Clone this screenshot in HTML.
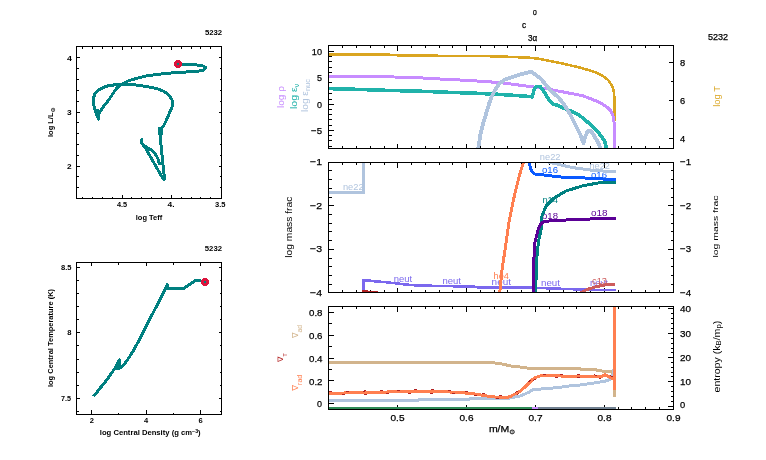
<!DOCTYPE html>
<html><head><meta charset="utf-8"><title>pgstar</title>
<style>
html,body{margin:0;padding:0;background:#fff;}
body{width:766px;height:460px;overflow:hidden;}
svg{display:block;font-family:"Liberation Sans", "DejaVu Sans", sans-serif;will-change:transform;}
text.b{font-weight:bold;}
</style></head><body>
<svg width="766" height="460" viewBox="0 0 766 460" shape-rendering="crispEdges">
<rect x="0" y="0" width="766" height="460" fill="#fff"/>
<line x1="82.5" y1="198.5" x2="82.5" y2="196.5" stroke="#000" stroke-width="1"/>
<line x1="82.5" y1="46.5" x2="82.5" y2="48.5" stroke="#000" stroke-width="1"/>
<line x1="92.5" y1="198.5" x2="92.5" y2="196.5" stroke="#000" stroke-width="1"/>
<line x1="92.5" y1="46.5" x2="92.5" y2="48.5" stroke="#000" stroke-width="1"/>
<line x1="102.5" y1="198.5" x2="102.5" y2="196.5" stroke="#000" stroke-width="1"/>
<line x1="102.5" y1="46.5" x2="102.5" y2="48.5" stroke="#000" stroke-width="1"/>
<line x1="112.5" y1="198.5" x2="112.5" y2="196.5" stroke="#000" stroke-width="1"/>
<line x1="112.5" y1="46.5" x2="112.5" y2="48.5" stroke="#000" stroke-width="1"/>
<line x1="122.5" y1="198.5" x2="122.5" y2="195.0" stroke="#000" stroke-width="1"/>
<line x1="122.5" y1="46.5" x2="122.5" y2="50.0" stroke="#000" stroke-width="1"/>
<line x1="131.5" y1="198.5" x2="131.5" y2="196.5" stroke="#000" stroke-width="1"/>
<line x1="131.5" y1="46.5" x2="131.5" y2="48.5" stroke="#000" stroke-width="1"/>
<line x1="141.5" y1="198.5" x2="141.5" y2="196.5" stroke="#000" stroke-width="1"/>
<line x1="141.5" y1="46.5" x2="141.5" y2="48.5" stroke="#000" stroke-width="1"/>
<line x1="151.5" y1="198.5" x2="151.5" y2="196.5" stroke="#000" stroke-width="1"/>
<line x1="151.5" y1="46.5" x2="151.5" y2="48.5" stroke="#000" stroke-width="1"/>
<line x1="161.5" y1="198.5" x2="161.5" y2="196.5" stroke="#000" stroke-width="1"/>
<line x1="161.5" y1="46.5" x2="161.5" y2="48.5" stroke="#000" stroke-width="1"/>
<line x1="171.5" y1="198.5" x2="171.5" y2="195.0" stroke="#000" stroke-width="1"/>
<line x1="171.5" y1="46.5" x2="171.5" y2="50.0" stroke="#000" stroke-width="1"/>
<line x1="181.5" y1="198.5" x2="181.5" y2="196.5" stroke="#000" stroke-width="1"/>
<line x1="181.5" y1="46.5" x2="181.5" y2="48.5" stroke="#000" stroke-width="1"/>
<line x1="191.5" y1="198.5" x2="191.5" y2="196.5" stroke="#000" stroke-width="1"/>
<line x1="191.5" y1="46.5" x2="191.5" y2="48.5" stroke="#000" stroke-width="1"/>
<line x1="200.5" y1="198.5" x2="200.5" y2="196.5" stroke="#000" stroke-width="1"/>
<line x1="200.5" y1="46.5" x2="200.5" y2="48.5" stroke="#000" stroke-width="1"/>
<line x1="210.5" y1="198.5" x2="210.5" y2="196.5" stroke="#000" stroke-width="1"/>
<line x1="210.5" y1="46.5" x2="210.5" y2="48.5" stroke="#000" stroke-width="1"/>
<line x1="76.5" y1="57.5" x2="80.0" y2="57.5" stroke="#000" stroke-width="1"/>
<line x1="221.5" y1="57.5" x2="218.5" y2="57.5" stroke="#000" stroke-width="1"/>
<line x1="76.5" y1="68.5" x2="79.0" y2="68.5" stroke="#000" stroke-width="1"/>
<line x1="221.5" y1="68.5" x2="220.0" y2="68.5" stroke="#000" stroke-width="1"/>
<line x1="76.5" y1="79.5" x2="79.0" y2="79.5" stroke="#000" stroke-width="1"/>
<line x1="221.5" y1="79.5" x2="220.0" y2="79.5" stroke="#000" stroke-width="1"/>
<line x1="76.5" y1="90.5" x2="79.0" y2="90.5" stroke="#000" stroke-width="1"/>
<line x1="221.5" y1="90.5" x2="220.0" y2="90.5" stroke="#000" stroke-width="1"/>
<line x1="76.5" y1="101.5" x2="79.0" y2="101.5" stroke="#000" stroke-width="1"/>
<line x1="221.5" y1="101.5" x2="220.0" y2="101.5" stroke="#000" stroke-width="1"/>
<line x1="76.5" y1="112.5" x2="80.0" y2="112.5" stroke="#000" stroke-width="1"/>
<line x1="221.5" y1="112.5" x2="218.5" y2="112.5" stroke="#000" stroke-width="1"/>
<line x1="76.5" y1="122.5" x2="79.0" y2="122.5" stroke="#000" stroke-width="1"/>
<line x1="221.5" y1="122.5" x2="220.0" y2="122.5" stroke="#000" stroke-width="1"/>
<line x1="76.5" y1="133.5" x2="79.0" y2="133.5" stroke="#000" stroke-width="1"/>
<line x1="221.5" y1="133.5" x2="220.0" y2="133.5" stroke="#000" stroke-width="1"/>
<line x1="76.5" y1="144.5" x2="79.0" y2="144.5" stroke="#000" stroke-width="1"/>
<line x1="221.5" y1="144.5" x2="220.0" y2="144.5" stroke="#000" stroke-width="1"/>
<line x1="76.5" y1="155.5" x2="79.0" y2="155.5" stroke="#000" stroke-width="1"/>
<line x1="221.5" y1="155.5" x2="220.0" y2="155.5" stroke="#000" stroke-width="1"/>
<line x1="76.5" y1="166.5" x2="80.0" y2="166.5" stroke="#000" stroke-width="1"/>
<line x1="221.5" y1="166.5" x2="218.5" y2="166.5" stroke="#000" stroke-width="1"/>
<line x1="76.5" y1="176.5" x2="79.0" y2="176.5" stroke="#000" stroke-width="1"/>
<line x1="221.5" y1="176.5" x2="220.0" y2="176.5" stroke="#000" stroke-width="1"/>
<line x1="76.5" y1="187.5" x2="79.0" y2="187.5" stroke="#000" stroke-width="1"/>
<line x1="221.5" y1="187.5" x2="220.0" y2="187.5" stroke="#000" stroke-width="1"/>
<rect x="76.5" y="46.5" width="145.0" height="152.0" fill="none" stroke="#000" stroke-width="1"/>
<polyline points="141.0,138.5 141.5,143.0 146.0,149.0 150.0,156.0 154.0,163.0 158.0,170.0 162.0,177.0 164.0,180.0 164.5,178.0 163.5,170.0 162.5,160.0 161.5,150.0 160.5,140.0 160.3,132.0 160.5,130.0 162.0,128.0 164.0,125.0 166.5,120.0 169.5,113.0 172.0,107.0 172.0,100.0 169.0,95.0 164.0,91.5 157.0,88.5 146.0,86.5 136.0,85.0 118.0,84.5 109.0,85.5 103.0,87.5 98.0,90.5 95.0,93.5 93.5,98.0 94.0,106.0 96.0,113.0 98.5,119.0 98.5,114.0 103.0,107.0 108.0,101.0 112.0,95.0 116.0,89.0 120.0,85.0 128.0,81.0 138.0,78.0 146.0,76.0 156.0,74.5 171.0,73.0 186.0,72.0 199.0,71.0 204.0,70.0 206.0,67.5 202.0,65.5 191.0,64.5 178.0,64.0" fill="none" stroke="#008080" stroke-width="3" stroke-linejoin="round" stroke-linecap="butt" />
<polyline points="143.0,145.0 148.0,148.0 152.0,150.5 156.0,155.0 158.5,160.0 159.5,165.0" fill="none" stroke="#008080" stroke-width="3" stroke-linejoin="round" stroke-linecap="butt" />
<polyline points="96.8,109.5 98.6,118.5" fill="none" stroke="#008080" stroke-width="3.6" stroke-linejoin="round" stroke-linecap="butt" />
<polyline points="160.4,127.2 160.4,135.0" fill="none" stroke="#008080" stroke-width="5" stroke-linejoin="round" stroke-linecap="butt" />
<circle cx="178" cy="64" r="4" fill="#DC143C"/>
<circle cx="178" cy="64" r="0.8" fill="#008080"/>
<text x="67" y="60.6" font-size="7.2" fill="#000" textLength="4.9" lengthAdjust="spacingAndGlyphs"  class="b">4</text>
<text x="67" y="115.0" font-size="7.2" fill="#000" textLength="4.6" lengthAdjust="spacingAndGlyphs"  class="b">3</text>
<text x="67" y="169.3" font-size="7.2" fill="#000" textLength="4.6" lengthAdjust="spacingAndGlyphs"  class="b">2</text>
<text x="117" y="207" font-size="7.2" fill="#000" textLength="10.2" lengthAdjust="spacingAndGlyphs"  class="b">4.5</text>
<text x="167.5" y="207" font-size="7.2" fill="#000" textLength="7.0" lengthAdjust="spacingAndGlyphs"  class="b">4.</text>
<text x="215" y="207" font-size="7.2" fill="#000" textLength="10.5" lengthAdjust="spacingAndGlyphs"  class="b">3.5</text>
<text x="135.8" y="219.9" font-size="7.2" fill="#000" textLength="26.4" lengthAdjust="spacingAndGlyphs"  class="b">log Teff</text>
<text x="204.9" y="34.9" font-size="7.2" fill="#000" textLength="17.3" lengthAdjust="spacingAndGlyphs"  class="b">5232</text>
<text transform="translate(52.9,137) rotate(-90)" x="0" y="0" font-size="7.2" fill="#000" textLength="29.7" lengthAdjust="spacingAndGlyphs"  class="b">log L/L<tspan font-size="6" dy="2">&#8857;</tspan></text>
<line x1="91.5" y1="414.5" x2="91.5" y2="410.0" stroke="#000" stroke-width="1"/>
<line x1="91.5" y1="262.5" x2="91.5" y2="266.0" stroke="#000" stroke-width="1"/>
<line x1="118.5" y1="414.5" x2="118.5" y2="412.5" stroke="#000" stroke-width="1"/>
<line x1="118.5" y1="262.5" x2="118.5" y2="265.0" stroke="#000" stroke-width="1"/>
<line x1="146" y1="414.5" x2="146" y2="410.0" stroke="#000" stroke-width="1"/>
<line x1="146" y1="262.5" x2="146" y2="266.0" stroke="#000" stroke-width="1"/>
<line x1="173.5" y1="414.5" x2="173.5" y2="412.5" stroke="#000" stroke-width="1"/>
<line x1="173.5" y1="262.5" x2="173.5" y2="265.0" stroke="#000" stroke-width="1"/>
<line x1="200.5" y1="414.5" x2="200.5" y2="410.0" stroke="#000" stroke-width="1"/>
<line x1="200.5" y1="262.5" x2="200.5" y2="266.0" stroke="#000" stroke-width="1"/>
<line x1="76.5" y1="267.5" x2="80.0" y2="267.5" stroke="#000" stroke-width="1"/>
<line x1="221.5" y1="267.5" x2="219.0" y2="267.5" stroke="#000" stroke-width="1"/>
<line x1="76.5" y1="280.5" x2="79.0" y2="280.5" stroke="#000" stroke-width="1"/>
<line x1="221.5" y1="280.5" x2="220.0" y2="280.5" stroke="#000" stroke-width="1"/>
<line x1="76.5" y1="293.5" x2="79.0" y2="293.5" stroke="#000" stroke-width="1"/>
<line x1="221.5" y1="293.5" x2="220.0" y2="293.5" stroke="#000" stroke-width="1"/>
<line x1="76.5" y1="306.5" x2="79.0" y2="306.5" stroke="#000" stroke-width="1"/>
<line x1="221.5" y1="306.5" x2="220.0" y2="306.5" stroke="#000" stroke-width="1"/>
<line x1="76.5" y1="319.5" x2="79.0" y2="319.5" stroke="#000" stroke-width="1"/>
<line x1="221.5" y1="319.5" x2="220.0" y2="319.5" stroke="#000" stroke-width="1"/>
<line x1="76.5" y1="332.5" x2="80.0" y2="332.5" stroke="#000" stroke-width="1"/>
<line x1="221.5" y1="332.5" x2="219.0" y2="332.5" stroke="#000" stroke-width="1"/>
<line x1="76.5" y1="345.5" x2="79.0" y2="345.5" stroke="#000" stroke-width="1"/>
<line x1="221.5" y1="345.5" x2="220.0" y2="345.5" stroke="#000" stroke-width="1"/>
<line x1="76.5" y1="359.5" x2="79.0" y2="359.5" stroke="#000" stroke-width="1"/>
<line x1="221.5" y1="359.5" x2="220.0" y2="359.5" stroke="#000" stroke-width="1"/>
<line x1="76.5" y1="372.5" x2="79.0" y2="372.5" stroke="#000" stroke-width="1"/>
<line x1="221.5" y1="372.5" x2="220.0" y2="372.5" stroke="#000" stroke-width="1"/>
<line x1="76.5" y1="385.5" x2="79.0" y2="385.5" stroke="#000" stroke-width="1"/>
<line x1="221.5" y1="385.5" x2="220.0" y2="385.5" stroke="#000" stroke-width="1"/>
<line x1="76.5" y1="398.5" x2="80.0" y2="398.5" stroke="#000" stroke-width="1"/>
<line x1="221.5" y1="398.5" x2="219.0" y2="398.5" stroke="#000" stroke-width="1"/>
<line x1="76.5" y1="411.5" x2="79.0" y2="411.5" stroke="#000" stroke-width="1"/>
<line x1="221.5" y1="411.5" x2="220.0" y2="411.5" stroke="#000" stroke-width="1"/>
<rect x="76.5" y="262.5" width="145.0" height="152.0" fill="none" stroke="#000" stroke-width="1"/>
<polyline points="93.5,396.5 101.0,387.0 106.0,381.0 111.0,374.0 115.0,368.0 119.5,360.0 120.0,363.5 117.5,369.0 122.0,367.0 126.0,362.0 130.0,356.0 134.0,349.5 139.0,340.5 146.5,325.5 156.4,306.4 163.9,291.5 167.4,284.7 167.8,288.6 171.3,288.2 178.3,288.8 182.6,289.0 188.7,285.1 194.8,280.8 197.4,280.2 205.0,282.0" fill="none" stroke="#008080" stroke-width="3" stroke-linejoin="round" stroke-linecap="butt" />
<circle cx="205" cy="282" r="4" fill="#DC143C"/>
<circle cx="205" cy="282" r="0.8" fill="#008080"/>
<text x="61" y="270" font-size="7.2" fill="#000" textLength="10.5" lengthAdjust="spacingAndGlyphs"  class="b">8.5</text>
<text x="67.2" y="334.6" font-size="7.2" fill="#000" textLength="4.2" lengthAdjust="spacingAndGlyphs"  class="b">8</text>
<text x="61" y="401.3" font-size="7.2" fill="#000" textLength="10.0" lengthAdjust="spacingAndGlyphs"  class="b">7.5</text>
<text x="89.8" y="422.8" font-size="7.2" fill="#000" textLength="4.2" lengthAdjust="spacingAndGlyphs"  class="b">2</text>
<text x="143.9" y="422.8" font-size="7.2" fill="#000" textLength="4.2" lengthAdjust="spacingAndGlyphs"  class="b">4</text>
<text x="198.6" y="422.8" font-size="7.2" fill="#000" textLength="4.2" lengthAdjust="spacingAndGlyphs"  class="b">6</text>
<text x="99.8" y="435.3" font-size="7.2" fill="#000" textLength="100.9" lengthAdjust="spacingAndGlyphs"  class="b">log Central Density (g cm<tspan font-size="5" dy="-2">&#8722;3</tspan><tspan dy="2">)</tspan></text>
<text transform="translate(53.2,387) rotate(-90)" x="0" y="0" font-size="7.2" fill="#000" textLength="98.0" lengthAdjust="spacingAndGlyphs"  class="b">log Central Temperature (K)</text>
<text x="204.8" y="251" font-size="7.2" fill="#000" textLength="17.2" lengthAdjust="spacingAndGlyphs"  class="b">5232</text>
<line x1="342.5" y1="148.5" x2="342.5" y2="146.0" stroke="#000" stroke-width="1"/>
<line x1="342.5" y1="45.5" x2="342.5" y2="48.0" stroke="#000" stroke-width="1"/>
<line x1="356.5" y1="148.5" x2="356.5" y2="146.0" stroke="#000" stroke-width="1"/>
<line x1="356.5" y1="45.5" x2="356.5" y2="48.0" stroke="#000" stroke-width="1"/>
<line x1="370.5" y1="148.5" x2="370.5" y2="146.0" stroke="#000" stroke-width="1"/>
<line x1="370.5" y1="45.5" x2="370.5" y2="48.0" stroke="#000" stroke-width="1"/>
<line x1="384.5" y1="148.5" x2="384.5" y2="146.0" stroke="#000" stroke-width="1"/>
<line x1="384.5" y1="45.5" x2="384.5" y2="48.0" stroke="#000" stroke-width="1"/>
<line x1="397.5" y1="148.5" x2="397.5" y2="143.5" stroke="#000" stroke-width="1"/>
<line x1="397.5" y1="45.5" x2="397.5" y2="50.5" stroke="#000" stroke-width="1"/>
<line x1="411.5" y1="148.5" x2="411.5" y2="146.0" stroke="#000" stroke-width="1"/>
<line x1="411.5" y1="45.5" x2="411.5" y2="48.0" stroke="#000" stroke-width="1"/>
<line x1="425.5" y1="148.5" x2="425.5" y2="146.0" stroke="#000" stroke-width="1"/>
<line x1="425.5" y1="45.5" x2="425.5" y2="48.0" stroke="#000" stroke-width="1"/>
<line x1="439.5" y1="148.5" x2="439.5" y2="146.0" stroke="#000" stroke-width="1"/>
<line x1="439.5" y1="45.5" x2="439.5" y2="48.0" stroke="#000" stroke-width="1"/>
<line x1="452.5" y1="148.5" x2="452.5" y2="146.0" stroke="#000" stroke-width="1"/>
<line x1="452.5" y1="45.5" x2="452.5" y2="48.0" stroke="#000" stroke-width="1"/>
<line x1="466.5" y1="148.5" x2="466.5" y2="143.5" stroke="#000" stroke-width="1"/>
<line x1="466.5" y1="45.5" x2="466.5" y2="50.5" stroke="#000" stroke-width="1"/>
<line x1="480.5" y1="148.5" x2="480.5" y2="146.0" stroke="#000" stroke-width="1"/>
<line x1="480.5" y1="45.5" x2="480.5" y2="48.0" stroke="#000" stroke-width="1"/>
<line x1="494.5" y1="148.5" x2="494.5" y2="146.0" stroke="#000" stroke-width="1"/>
<line x1="494.5" y1="45.5" x2="494.5" y2="48.0" stroke="#000" stroke-width="1"/>
<line x1="507.5" y1="148.5" x2="507.5" y2="146.0" stroke="#000" stroke-width="1"/>
<line x1="507.5" y1="45.5" x2="507.5" y2="48.0" stroke="#000" stroke-width="1"/>
<line x1="521.5" y1="148.5" x2="521.5" y2="146.0" stroke="#000" stroke-width="1"/>
<line x1="521.5" y1="45.5" x2="521.5" y2="48.0" stroke="#000" stroke-width="1"/>
<line x1="535.5" y1="148.5" x2="535.5" y2="143.5" stroke="#000" stroke-width="1"/>
<line x1="535.5" y1="45.5" x2="535.5" y2="50.5" stroke="#000" stroke-width="1"/>
<line x1="549.5" y1="148.5" x2="549.5" y2="146.0" stroke="#000" stroke-width="1"/>
<line x1="549.5" y1="45.5" x2="549.5" y2="48.0" stroke="#000" stroke-width="1"/>
<line x1="563.5" y1="148.5" x2="563.5" y2="146.0" stroke="#000" stroke-width="1"/>
<line x1="563.5" y1="45.5" x2="563.5" y2="48.0" stroke="#000" stroke-width="1"/>
<line x1="576.5" y1="148.5" x2="576.5" y2="146.0" stroke="#000" stroke-width="1"/>
<line x1="576.5" y1="45.5" x2="576.5" y2="48.0" stroke="#000" stroke-width="1"/>
<line x1="590.5" y1="148.5" x2="590.5" y2="146.0" stroke="#000" stroke-width="1"/>
<line x1="590.5" y1="45.5" x2="590.5" y2="48.0" stroke="#000" stroke-width="1"/>
<line x1="604.5" y1="148.5" x2="604.5" y2="143.5" stroke="#000" stroke-width="1"/>
<line x1="604.5" y1="45.5" x2="604.5" y2="50.5" stroke="#000" stroke-width="1"/>
<line x1="618.5" y1="148.5" x2="618.5" y2="146.0" stroke="#000" stroke-width="1"/>
<line x1="618.5" y1="45.5" x2="618.5" y2="48.0" stroke="#000" stroke-width="1"/>
<line x1="631.5" y1="148.5" x2="631.5" y2="146.0" stroke="#000" stroke-width="1"/>
<line x1="631.5" y1="45.5" x2="631.5" y2="48.0" stroke="#000" stroke-width="1"/>
<line x1="645.5" y1="148.5" x2="645.5" y2="146.0" stroke="#000" stroke-width="1"/>
<line x1="645.5" y1="45.5" x2="645.5" y2="48.0" stroke="#000" stroke-width="1"/>
<line x1="659.5" y1="148.5" x2="659.5" y2="146.0" stroke="#000" stroke-width="1"/>
<line x1="659.5" y1="45.5" x2="659.5" y2="48.0" stroke="#000" stroke-width="1"/>
<rect x="328.5" y="45.5" width="345.0" height="103.0" fill="none" stroke="#000" stroke-width="1"/>
<line x1="342.5" y1="292.5" x2="342.5" y2="290.0" stroke="#000" stroke-width="1"/>
<line x1="342.5" y1="162.5" x2="342.5" y2="165.0" stroke="#000" stroke-width="1"/>
<line x1="356.5" y1="292.5" x2="356.5" y2="290.0" stroke="#000" stroke-width="1"/>
<line x1="356.5" y1="162.5" x2="356.5" y2="165.0" stroke="#000" stroke-width="1"/>
<line x1="370.5" y1="292.5" x2="370.5" y2="290.0" stroke="#000" stroke-width="1"/>
<line x1="370.5" y1="162.5" x2="370.5" y2="165.0" stroke="#000" stroke-width="1"/>
<line x1="384.5" y1="292.5" x2="384.5" y2="290.0" stroke="#000" stroke-width="1"/>
<line x1="384.5" y1="162.5" x2="384.5" y2="165.0" stroke="#000" stroke-width="1"/>
<line x1="397.5" y1="292.5" x2="397.5" y2="287.5" stroke="#000" stroke-width="1"/>
<line x1="397.5" y1="162.5" x2="397.5" y2="167.5" stroke="#000" stroke-width="1"/>
<line x1="411.5" y1="292.5" x2="411.5" y2="290.0" stroke="#000" stroke-width="1"/>
<line x1="411.5" y1="162.5" x2="411.5" y2="165.0" stroke="#000" stroke-width="1"/>
<line x1="425.5" y1="292.5" x2="425.5" y2="290.0" stroke="#000" stroke-width="1"/>
<line x1="425.5" y1="162.5" x2="425.5" y2="165.0" stroke="#000" stroke-width="1"/>
<line x1="439.5" y1="292.5" x2="439.5" y2="290.0" stroke="#000" stroke-width="1"/>
<line x1="439.5" y1="162.5" x2="439.5" y2="165.0" stroke="#000" stroke-width="1"/>
<line x1="452.5" y1="292.5" x2="452.5" y2="290.0" stroke="#000" stroke-width="1"/>
<line x1="452.5" y1="162.5" x2="452.5" y2="165.0" stroke="#000" stroke-width="1"/>
<line x1="466.5" y1="292.5" x2="466.5" y2="287.5" stroke="#000" stroke-width="1"/>
<line x1="466.5" y1="162.5" x2="466.5" y2="167.5" stroke="#000" stroke-width="1"/>
<line x1="480.5" y1="292.5" x2="480.5" y2="290.0" stroke="#000" stroke-width="1"/>
<line x1="480.5" y1="162.5" x2="480.5" y2="165.0" stroke="#000" stroke-width="1"/>
<line x1="494.5" y1="292.5" x2="494.5" y2="290.0" stroke="#000" stroke-width="1"/>
<line x1="494.5" y1="162.5" x2="494.5" y2="165.0" stroke="#000" stroke-width="1"/>
<line x1="507.5" y1="292.5" x2="507.5" y2="290.0" stroke="#000" stroke-width="1"/>
<line x1="507.5" y1="162.5" x2="507.5" y2="165.0" stroke="#000" stroke-width="1"/>
<line x1="521.5" y1="292.5" x2="521.5" y2="290.0" stroke="#000" stroke-width="1"/>
<line x1="521.5" y1="162.5" x2="521.5" y2="165.0" stroke="#000" stroke-width="1"/>
<line x1="535.5" y1="292.5" x2="535.5" y2="287.5" stroke="#000" stroke-width="1"/>
<line x1="535.5" y1="162.5" x2="535.5" y2="167.5" stroke="#000" stroke-width="1"/>
<line x1="549.5" y1="292.5" x2="549.5" y2="290.0" stroke="#000" stroke-width="1"/>
<line x1="549.5" y1="162.5" x2="549.5" y2="165.0" stroke="#000" stroke-width="1"/>
<line x1="563.5" y1="292.5" x2="563.5" y2="290.0" stroke="#000" stroke-width="1"/>
<line x1="563.5" y1="162.5" x2="563.5" y2="165.0" stroke="#000" stroke-width="1"/>
<line x1="576.5" y1="292.5" x2="576.5" y2="290.0" stroke="#000" stroke-width="1"/>
<line x1="576.5" y1="162.5" x2="576.5" y2="165.0" stroke="#000" stroke-width="1"/>
<line x1="590.5" y1="292.5" x2="590.5" y2="290.0" stroke="#000" stroke-width="1"/>
<line x1="590.5" y1="162.5" x2="590.5" y2="165.0" stroke="#000" stroke-width="1"/>
<line x1="604.5" y1="292.5" x2="604.5" y2="287.5" stroke="#000" stroke-width="1"/>
<line x1="604.5" y1="162.5" x2="604.5" y2="167.5" stroke="#000" stroke-width="1"/>
<line x1="618.5" y1="292.5" x2="618.5" y2="290.0" stroke="#000" stroke-width="1"/>
<line x1="618.5" y1="162.5" x2="618.5" y2="165.0" stroke="#000" stroke-width="1"/>
<line x1="631.5" y1="292.5" x2="631.5" y2="290.0" stroke="#000" stroke-width="1"/>
<line x1="631.5" y1="162.5" x2="631.5" y2="165.0" stroke="#000" stroke-width="1"/>
<line x1="645.5" y1="292.5" x2="645.5" y2="290.0" stroke="#000" stroke-width="1"/>
<line x1="645.5" y1="162.5" x2="645.5" y2="165.0" stroke="#000" stroke-width="1"/>
<line x1="659.5" y1="292.5" x2="659.5" y2="290.0" stroke="#000" stroke-width="1"/>
<line x1="659.5" y1="162.5" x2="659.5" y2="165.0" stroke="#000" stroke-width="1"/>
<rect x="328.5" y="162.5" width="345.0" height="130.0" fill="none" stroke="#000" stroke-width="1"/>
<line x1="342.5" y1="409.5" x2="342.5" y2="407.0" stroke="#000" stroke-width="1"/>
<line x1="342.5" y1="306.5" x2="342.5" y2="309.0" stroke="#000" stroke-width="1"/>
<line x1="356.5" y1="409.5" x2="356.5" y2="407.0" stroke="#000" stroke-width="1"/>
<line x1="356.5" y1="306.5" x2="356.5" y2="309.0" stroke="#000" stroke-width="1"/>
<line x1="370.5" y1="409.5" x2="370.5" y2="407.0" stroke="#000" stroke-width="1"/>
<line x1="370.5" y1="306.5" x2="370.5" y2="309.0" stroke="#000" stroke-width="1"/>
<line x1="384.5" y1="409.5" x2="384.5" y2="407.0" stroke="#000" stroke-width="1"/>
<line x1="384.5" y1="306.5" x2="384.5" y2="309.0" stroke="#000" stroke-width="1"/>
<line x1="397.5" y1="409.5" x2="397.5" y2="404.5" stroke="#000" stroke-width="1"/>
<line x1="397.5" y1="306.5" x2="397.5" y2="311.5" stroke="#000" stroke-width="1"/>
<line x1="411.5" y1="409.5" x2="411.5" y2="407.0" stroke="#000" stroke-width="1"/>
<line x1="411.5" y1="306.5" x2="411.5" y2="309.0" stroke="#000" stroke-width="1"/>
<line x1="425.5" y1="409.5" x2="425.5" y2="407.0" stroke="#000" stroke-width="1"/>
<line x1="425.5" y1="306.5" x2="425.5" y2="309.0" stroke="#000" stroke-width="1"/>
<line x1="439.5" y1="409.5" x2="439.5" y2="407.0" stroke="#000" stroke-width="1"/>
<line x1="439.5" y1="306.5" x2="439.5" y2="309.0" stroke="#000" stroke-width="1"/>
<line x1="452.5" y1="409.5" x2="452.5" y2="407.0" stroke="#000" stroke-width="1"/>
<line x1="452.5" y1="306.5" x2="452.5" y2="309.0" stroke="#000" stroke-width="1"/>
<line x1="466.5" y1="409.5" x2="466.5" y2="404.5" stroke="#000" stroke-width="1"/>
<line x1="466.5" y1="306.5" x2="466.5" y2="311.5" stroke="#000" stroke-width="1"/>
<line x1="480.5" y1="409.5" x2="480.5" y2="407.0" stroke="#000" stroke-width="1"/>
<line x1="480.5" y1="306.5" x2="480.5" y2="309.0" stroke="#000" stroke-width="1"/>
<line x1="494.5" y1="409.5" x2="494.5" y2="407.0" stroke="#000" stroke-width="1"/>
<line x1="494.5" y1="306.5" x2="494.5" y2="309.0" stroke="#000" stroke-width="1"/>
<line x1="507.5" y1="409.5" x2="507.5" y2="407.0" stroke="#000" stroke-width="1"/>
<line x1="507.5" y1="306.5" x2="507.5" y2="309.0" stroke="#000" stroke-width="1"/>
<line x1="521.5" y1="409.5" x2="521.5" y2="407.0" stroke="#000" stroke-width="1"/>
<line x1="521.5" y1="306.5" x2="521.5" y2="309.0" stroke="#000" stroke-width="1"/>
<line x1="535.5" y1="409.5" x2="535.5" y2="404.5" stroke="#000" stroke-width="1"/>
<line x1="535.5" y1="306.5" x2="535.5" y2="311.5" stroke="#000" stroke-width="1"/>
<line x1="549.5" y1="409.5" x2="549.5" y2="407.0" stroke="#000" stroke-width="1"/>
<line x1="549.5" y1="306.5" x2="549.5" y2="309.0" stroke="#000" stroke-width="1"/>
<line x1="563.5" y1="409.5" x2="563.5" y2="407.0" stroke="#000" stroke-width="1"/>
<line x1="563.5" y1="306.5" x2="563.5" y2="309.0" stroke="#000" stroke-width="1"/>
<line x1="576.5" y1="409.5" x2="576.5" y2="407.0" stroke="#000" stroke-width="1"/>
<line x1="576.5" y1="306.5" x2="576.5" y2="309.0" stroke="#000" stroke-width="1"/>
<line x1="590.5" y1="409.5" x2="590.5" y2="407.0" stroke="#000" stroke-width="1"/>
<line x1="590.5" y1="306.5" x2="590.5" y2="309.0" stroke="#000" stroke-width="1"/>
<line x1="604.5" y1="409.5" x2="604.5" y2="404.5" stroke="#000" stroke-width="1"/>
<line x1="604.5" y1="306.5" x2="604.5" y2="311.5" stroke="#000" stroke-width="1"/>
<line x1="618.5" y1="409.5" x2="618.5" y2="407.0" stroke="#000" stroke-width="1"/>
<line x1="618.5" y1="306.5" x2="618.5" y2="309.0" stroke="#000" stroke-width="1"/>
<line x1="631.5" y1="409.5" x2="631.5" y2="407.0" stroke="#000" stroke-width="1"/>
<line x1="631.5" y1="306.5" x2="631.5" y2="309.0" stroke="#000" stroke-width="1"/>
<line x1="645.5" y1="409.5" x2="645.5" y2="407.0" stroke="#000" stroke-width="1"/>
<line x1="645.5" y1="306.5" x2="645.5" y2="309.0" stroke="#000" stroke-width="1"/>
<line x1="659.5" y1="409.5" x2="659.5" y2="407.0" stroke="#000" stroke-width="1"/>
<line x1="659.5" y1="306.5" x2="659.5" y2="309.0" stroke="#000" stroke-width="1"/>
<rect x="328.5" y="306.5" width="345.0" height="103.0" fill="none" stroke="#000" stroke-width="1"/>
<line x1="328.5" y1="146.5" x2="332.0" y2="146.5" stroke="#000" stroke-width="1"/>
<line x1="328.5" y1="140.5" x2="332.0" y2="140.5" stroke="#000" stroke-width="1"/>
<line x1="328.5" y1="135.5" x2="332.0" y2="135.5" stroke="#000" stroke-width="1"/>
<line x1="328.5" y1="130.5" x2="334.0" y2="130.5" stroke="#000" stroke-width="1"/>
<line x1="328.5" y1="125.5" x2="332.0" y2="125.5" stroke="#000" stroke-width="1"/>
<line x1="328.5" y1="119.5" x2="332.0" y2="119.5" stroke="#000" stroke-width="1"/>
<line x1="328.5" y1="114.5" x2="332.0" y2="114.5" stroke="#000" stroke-width="1"/>
<line x1="328.5" y1="109.5" x2="332.0" y2="109.5" stroke="#000" stroke-width="1"/>
<line x1="328.5" y1="104.5" x2="334.0" y2="104.5" stroke="#000" stroke-width="1"/>
<line x1="328.5" y1="99.5" x2="332.0" y2="99.5" stroke="#000" stroke-width="1"/>
<line x1="328.5" y1="93.5" x2="332.0" y2="93.5" stroke="#000" stroke-width="1"/>
<line x1="328.5" y1="88.5" x2="332.0" y2="88.5" stroke="#000" stroke-width="1"/>
<line x1="328.5" y1="82.5" x2="332.0" y2="82.5" stroke="#000" stroke-width="1"/>
<line x1="328.5" y1="77.5" x2="334.0" y2="77.5" stroke="#000" stroke-width="1"/>
<line x1="328.5" y1="72.5" x2="332.0" y2="72.5" stroke="#000" stroke-width="1"/>
<line x1="328.5" y1="67.5" x2="332.0" y2="67.5" stroke="#000" stroke-width="1"/>
<line x1="328.5" y1="61.5" x2="332.0" y2="61.5" stroke="#000" stroke-width="1"/>
<line x1="328.5" y1="56.5" x2="332.0" y2="56.5" stroke="#000" stroke-width="1"/>
<line x1="328.5" y1="51.5" x2="334.0" y2="51.5" stroke="#000" stroke-width="1"/>
<line x1="673.5" y1="138.5" x2="668.5" y2="138.5" stroke="#000" stroke-width="1"/>
<line x1="673.5" y1="119.5" x2="671.0" y2="119.5" stroke="#000" stroke-width="1"/>
<line x1="673.5" y1="100.5" x2="668.5" y2="100.5" stroke="#000" stroke-width="1"/>
<line x1="673.5" y1="81.5" x2="671.0" y2="81.5" stroke="#000" stroke-width="1"/>
<line x1="673.5" y1="62.5" x2="668.5" y2="62.5" stroke="#000" stroke-width="1"/>
<text x="311.8" y="54.9" font-size="9.8" fill="#000" textLength="10.2" lengthAdjust="spacingAndGlyphs"  stroke="#000" stroke-width="0.25">10</text>
<text x="317" y="81.3" font-size="9.8" fill="#000" textLength="5.0" lengthAdjust="spacingAndGlyphs"  stroke="#000" stroke-width="0.25">5</text>
<text x="317" y="107.7" font-size="9.8" fill="#000" textLength="5.0" lengthAdjust="spacingAndGlyphs"  stroke="#000" stroke-width="0.25">0</text>
<text x="311" y="134" font-size="9.8" fill="#000" textLength="11.0" lengthAdjust="spacingAndGlyphs"  stroke="#000" stroke-width="0.25">&#8722;5</text>
<text x="680" y="65.8" font-size="9.8" fill="#000" textLength="5.2" lengthAdjust="spacingAndGlyphs"  stroke="#000" stroke-width="0.25">8</text>
<text x="680" y="103.80000000000001" font-size="9.8" fill="#000" textLength="5.2" lengthAdjust="spacingAndGlyphs"  stroke="#000" stroke-width="0.25">6</text>
<text x="680" y="141.8" font-size="9.8" fill="#000" textLength="5.2" lengthAdjust="spacingAndGlyphs"  stroke="#000" stroke-width="0.25">4</text>
<clipPath id="ctop"><rect x="329" y="46" width="344" height="102"/></clipPath>
<g clip-path="url(#ctop)">
<polyline points="329.0,54.4 386.0,54.6 400.0,55.4 455.0,56.0 490.0,56.2 508.0,56.8 528.0,57.6 538.0,58.6 550.0,61.0 562.0,63.4 574.0,66.2 582.0,68.2 590.0,70.5 597.0,73.0 603.0,76.0 608.0,80.0 611.0,84.0 613.0,88.0 614.0,93.0 614.5,100.0 614.5,120.5" fill="none" stroke="#DAA520" stroke-width="2.6" stroke-linejoin="round" stroke-linecap="butt" />
<polyline points="329.0,76.0 376.0,76.5 416.0,77.6 440.0,79.0 470.0,80.5 500.0,82.6 530.0,86.5 546.0,88.5 550.0,89.5 561.0,91.5 571.0,93.5 582.0,95.5 590.0,98.5 600.0,102.5 607.0,107.0 611.0,111.0 613.0,116.0 614.0,122.0 614.5,130.0 614.5,149.0" fill="none" stroke="#C78CFF" stroke-width="3" stroke-linejoin="round" stroke-linecap="butt" />
<polyline points="329.0,88.6 345.0,89.0 388.0,90.4 425.0,91.4 450.0,92.4 470.0,93.0 500.0,94.4 530.0,96.5 532.3,97.0 534.0,90.0 536.0,86.5 540.0,86.5 543.0,90.0 546.0,95.0 549.0,100.0 553.0,104.0 558.0,105.5 563.0,108.0 571.0,111.0 579.0,115.0 584.0,119.0 591.0,125.0 597.0,131.0 602.0,137.0 605.0,142.0 606.5,149.0" fill="none" stroke="#20B2AA" stroke-width="3.6" stroke-linejoin="round" stroke-linecap="butt" />
<polyline points="478.0,150.0 480.5,134.0 483.0,124.0 486.0,114.0 489.0,104.0 491.5,97.0 495.0,90.0 499.0,84.0 504.0,80.0 512.0,77.0 522.0,74.0 531.0,71.8 536.0,75.0 541.0,79.0 546.0,85.0 551.0,91.0 558.0,97.0 563.0,103.0 567.0,109.0 571.0,116.0 576.0,126.0 580.0,134.0 583.5,143.0 585.5,136.0 587.5,131.5 590.0,130.5 592.5,133.0 596.0,139.0 599.0,144.0 600.5,150.0" fill="none" stroke="#B0C4DE" stroke-width="3.8" stroke-linejoin="round" stroke-linecap="butt" />
</g>
<text transform="translate(284.0,108) rotate(-90)" x="0" y="0" font-size="8.8" fill="#C78CFF" textLength="22.0" lengthAdjust="spacingAndGlyphs" >log &#961;</text>
<text transform="translate(296.5,109) rotate(-90)" x="0" y="0" font-size="8.8" fill="#20B2AA" textLength="25.5" lengthAdjust="spacingAndGlyphs" >log &#949;<tspan font-size="6.5" dy="2.5">&#957;</tspan></text>
<text transform="translate(307.6,112) rotate(-90)" x="0" y="0" font-size="8.8" fill="#B0C4DE" textLength="33.0" lengthAdjust="spacingAndGlyphs" >log &#949;<tspan font-size="6.5" dy="2.8">nuc</tspan></text>
<text transform="translate(720.2,106.8) rotate(-90)" x="0" y="0" font-size="9.8" fill="#DAA520" textLength="20.9" lengthAdjust="spacingAndGlyphs" >log T</text>
<line x1="328.5" y1="170.5" x2="332.0" y2="170.5" stroke="#000" stroke-width="1"/>
<line x1="673.5" y1="170.5" x2="671.0" y2="170.5" stroke="#000" stroke-width="1"/>
<line x1="328.5" y1="179.5" x2="332.0" y2="179.5" stroke="#000" stroke-width="1"/>
<line x1="673.5" y1="179.5" x2="671.0" y2="179.5" stroke="#000" stroke-width="1"/>
<line x1="328.5" y1="188.5" x2="332.0" y2="188.5" stroke="#000" stroke-width="1"/>
<line x1="673.5" y1="188.5" x2="671.0" y2="188.5" stroke="#000" stroke-width="1"/>
<line x1="328.5" y1="197.5" x2="332.0" y2="197.5" stroke="#000" stroke-width="1"/>
<line x1="673.5" y1="197.5" x2="671.0" y2="197.5" stroke="#000" stroke-width="1"/>
<line x1="328.5" y1="205.5" x2="334.0" y2="205.5" stroke="#000" stroke-width="1"/>
<line x1="673.5" y1="205.5" x2="668.0" y2="205.5" stroke="#000" stroke-width="1"/>
<line x1="328.5" y1="214.5" x2="332.0" y2="214.5" stroke="#000" stroke-width="1"/>
<line x1="673.5" y1="214.5" x2="671.0" y2="214.5" stroke="#000" stroke-width="1"/>
<line x1="328.5" y1="223.5" x2="332.0" y2="223.5" stroke="#000" stroke-width="1"/>
<line x1="673.5" y1="223.5" x2="671.0" y2="223.5" stroke="#000" stroke-width="1"/>
<line x1="328.5" y1="231.5" x2="332.0" y2="231.5" stroke="#000" stroke-width="1"/>
<line x1="673.5" y1="231.5" x2="671.0" y2="231.5" stroke="#000" stroke-width="1"/>
<line x1="328.5" y1="240.5" x2="332.0" y2="240.5" stroke="#000" stroke-width="1"/>
<line x1="673.5" y1="240.5" x2="671.0" y2="240.5" stroke="#000" stroke-width="1"/>
<line x1="328.5" y1="249.5" x2="334.0" y2="249.5" stroke="#000" stroke-width="1"/>
<line x1="673.5" y1="249.5" x2="668.0" y2="249.5" stroke="#000" stroke-width="1"/>
<line x1="328.5" y1="258.5" x2="332.0" y2="258.5" stroke="#000" stroke-width="1"/>
<line x1="673.5" y1="258.5" x2="671.0" y2="258.5" stroke="#000" stroke-width="1"/>
<line x1="328.5" y1="266.5" x2="332.0" y2="266.5" stroke="#000" stroke-width="1"/>
<line x1="673.5" y1="266.5" x2="671.0" y2="266.5" stroke="#000" stroke-width="1"/>
<line x1="328.5" y1="275.5" x2="332.0" y2="275.5" stroke="#000" stroke-width="1"/>
<line x1="673.5" y1="275.5" x2="671.0" y2="275.5" stroke="#000" stroke-width="1"/>
<line x1="328.5" y1="284.5" x2="332.0" y2="284.5" stroke="#000" stroke-width="1"/>
<line x1="673.5" y1="284.5" x2="671.0" y2="284.5" stroke="#000" stroke-width="1"/>
<text x="310" y="164.9" font-size="9.8" fill="#000" textLength="12.0" lengthAdjust="spacingAndGlyphs"  stroke="#000" stroke-width="0.25">&#8722;1</text>
<text x="680" y="164.9" font-size="9.8" fill="#000" textLength="11.1" lengthAdjust="spacingAndGlyphs"  stroke="#000" stroke-width="0.25">&#8722;1</text>
<text x="310" y="209.02999999999997" font-size="9.8" fill="#000" textLength="12.0" lengthAdjust="spacingAndGlyphs"  stroke="#000" stroke-width="0.25">&#8722;2</text>
<text x="680" y="209.02999999999997" font-size="9.8" fill="#000" textLength="11.1" lengthAdjust="spacingAndGlyphs"  stroke="#000" stroke-width="0.25">&#8722;2</text>
<text x="310" y="252.35999999999999" font-size="9.8" fill="#000" textLength="12.0" lengthAdjust="spacingAndGlyphs"  stroke="#000" stroke-width="0.25">&#8722;3</text>
<text x="680" y="252.35999999999999" font-size="9.8" fill="#000" textLength="11.1" lengthAdjust="spacingAndGlyphs"  stroke="#000" stroke-width="0.25">&#8722;3</text>
<text x="310" y="295.69" font-size="9.8" fill="#000" textLength="12.0" lengthAdjust="spacingAndGlyphs"  stroke="#000" stroke-width="0.25">&#8722;4</text>
<text x="680" y="295.69" font-size="9.8" fill="#000" textLength="11.1" lengthAdjust="spacingAndGlyphs"  stroke="#000" stroke-width="0.25">&#8722;4</text>
<text transform="translate(292.4,257.7) rotate(-90)" x="0" y="0" font-size="8.3" fill="#000" textLength="61.0" lengthAdjust="spacingAndGlyphs" >log mass frac</text>
<text transform="translate(718.3,257.6) rotate(-90)" x="0" y="0" font-size="7.6" fill="#000" textLength="62.0" lengthAdjust="spacingAndGlyphs" >log mass frac</text>
<clipPath id="cmid"><rect x="329" y="163" width="344" height="129"/></clipPath>
<text x="342.9" y="189.8" font-size="9.8" fill="#B0C4DE" textLength="20.7" lengthAdjust="spacingAndGlyphs" >ne22</text>
<text x="539.8" y="160" font-size="9.8" fill="#B0C4DE" textLength="20.7" lengthAdjust="spacingAndGlyphs" >ne22</text>
<text x="589.5" y="168.5" font-size="9.8" fill="#B0C4DE" textLength="20.5" lengthAdjust="spacingAndGlyphs" >ne22</text>
<text x="542" y="172.5" font-size="9.8" fill="#0A5AFF" textLength="16.0" lengthAdjust="spacingAndGlyphs" >o16</text>
<text x="591" y="177.8" font-size="9.8" fill="#0A5AFF" textLength="16.0" lengthAdjust="spacingAndGlyphs" >o16</text>
<text x="542.4" y="203" font-size="9.8" fill="#008080" textLength="15.6" lengthAdjust="spacingAndGlyphs" >n14</text>
<text x="542" y="219" font-size="9.8" fill="#5B0096" textLength="16.0" lengthAdjust="spacingAndGlyphs" >o18</text>
<text x="591" y="216.4" font-size="9.8" fill="#5B0096" textLength="16.6" lengthAdjust="spacingAndGlyphs" >o18</text>
<text x="393.8" y="282" font-size="9.8" fill="#7B68EE" textLength="18.4" lengthAdjust="spacingAndGlyphs" >neut</text>
<text x="442.4" y="284" font-size="9.8" fill="#7B68EE" textLength="18.6" lengthAdjust="spacingAndGlyphs" >neut</text>
<text x="491.6" y="285" font-size="9.8" fill="#7B68EE" textLength="19.4" lengthAdjust="spacingAndGlyphs" >neut</text>
<text x="541" y="286" font-size="9.8" fill="#7B68EE" textLength="19.0" lengthAdjust="spacingAndGlyphs" >neut</text>
<text x="590" y="286" font-size="9.8" fill="#7B68EE" textLength="18.0" lengthAdjust="spacingAndGlyphs" >neut</text>
<text x="493.6" y="278.6" font-size="9.8" fill="#FF7F50" textLength="15.4" lengthAdjust="spacingAndGlyphs" >he4</text>
<text x="592" y="284" font-size="9.8" fill="#CD5C5C" textLength="15.0" lengthAdjust="spacingAndGlyphs" >c13</text>
<g clip-path="url(#cmid)">
<polyline points="329.0,192.4 363.6,192.4 363.6,160.0" fill="none" stroke="#B0C4DE" stroke-width="3" stroke-linejoin="round" stroke-linecap="butt" />
<polyline points="548.0,162.0 557.0,164.0 572.0,167.5 590.0,170.0 615.8,172.0" fill="none" stroke="#B0C4DE" stroke-width="3" stroke-linejoin="round" stroke-linecap="butt" />
<polyline points="363.5,294.0 363.5,280.4 369.0,280.6 378.0,281.6 386.0,282.2 400.0,283.8 405.0,284.5 418.0,285.5 440.0,286.0 473.0,286.5 480.0,287.6 532.0,287.6 550.0,288.4 578.0,289.4 600.0,290.0 615.8,290.0" fill="none" stroke="#7B68EE" stroke-width="2.6" stroke-linejoin="round" stroke-linecap="butt" />
<polyline points="362.2,291.2 368.0,291.2" fill="none" stroke="#B22222" stroke-width="2" stroke-linejoin="round" stroke-linecap="butt" />
<polyline points="368.0,291.6 377.8,291.6" fill="none" stroke="#B22222" stroke-width="1.4" stroke-linejoin="round" stroke-linecap="butt" />
<polyline points="525.0,160.0 523.5,162.5 519.5,175.0 514.5,195.0 509.0,222.0 505.0,250.0 502.0,270.0 499.6,294.0" fill="none" stroke="#FF7F50" stroke-width="3" stroke-linejoin="round" stroke-linecap="butt" />
<polyline points="529.0,160.0 530.5,169.0 533.0,173.0 536.0,174.5 544.0,175.0 556.0,176.5 566.0,177.5 576.0,177.2 590.0,178.5 615.8,179.5" fill="none" stroke="#0A5AFF" stroke-width="3" stroke-linejoin="round" stroke-linecap="butt" />
<polyline points="535.6,294.0 536.6,260.0 538.4,242.0 541.0,230.0 542.0,216.0 546.0,206.0 554.0,198.0 566.0,191.0 582.0,186.0 598.0,183.0 615.8,182.0" fill="none" stroke="#008080" stroke-width="3" stroke-linejoin="round" stroke-linecap="butt" />
<polyline points="533.4,294.0 533.6,264.0 535.0,242.0 538.0,230.0 540.0,225.0 543.0,222.0 550.0,220.8 566.0,220.0 590.0,219.0 615.8,218.2" fill="none" stroke="#5B0096" stroke-width="3" stroke-linejoin="round" stroke-linecap="butt" />
<polyline points="580.0,293.0 587.0,289.5 597.0,286.5 605.0,285.0 615.0,284.8" fill="none" stroke="#CD5C5C" stroke-width="3" stroke-linejoin="round" stroke-linecap="butt" />
</g>
<line x1="328.5" y1="403.5" x2="334.0" y2="403.5" stroke="#000" stroke-width="1"/>
<line x1="328.5" y1="392.5" x2="332.0" y2="392.5" stroke="#000" stroke-width="1"/>
<line x1="328.5" y1="380.5" x2="334.0" y2="380.5" stroke="#000" stroke-width="1"/>
<line x1="328.5" y1="369.5" x2="332.0" y2="369.5" stroke="#000" stroke-width="1"/>
<line x1="328.5" y1="358.5" x2="334.0" y2="358.5" stroke="#000" stroke-width="1"/>
<line x1="328.5" y1="346.5" x2="332.0" y2="346.5" stroke="#000" stroke-width="1"/>
<line x1="328.5" y1="335.5" x2="334.0" y2="335.5" stroke="#000" stroke-width="1"/>
<line x1="328.5" y1="323.5" x2="332.0" y2="323.5" stroke="#000" stroke-width="1"/>
<line x1="328.5" y1="312.5" x2="334.0" y2="312.5" stroke="#000" stroke-width="1"/>
<line x1="673.5" y1="406.5" x2="668.0" y2="406.5" stroke="#000" stroke-width="1"/>
<line x1="673.5" y1="401.5" x2="671.0" y2="401.5" stroke="#000" stroke-width="1"/>
<line x1="673.5" y1="396.5" x2="671.0" y2="396.5" stroke="#000" stroke-width="1"/>
<line x1="673.5" y1="391.5" x2="671.0" y2="391.5" stroke="#000" stroke-width="1"/>
<line x1="673.5" y1="386.5" x2="671.0" y2="386.5" stroke="#000" stroke-width="1"/>
<line x1="673.5" y1="381.5" x2="668.0" y2="381.5" stroke="#000" stroke-width="1"/>
<line x1="673.5" y1="376.5" x2="671.0" y2="376.5" stroke="#000" stroke-width="1"/>
<line x1="673.5" y1="372.5" x2="671.0" y2="372.5" stroke="#000" stroke-width="1"/>
<line x1="673.5" y1="367.5" x2="671.0" y2="367.5" stroke="#000" stroke-width="1"/>
<line x1="673.5" y1="362.5" x2="671.0" y2="362.5" stroke="#000" stroke-width="1"/>
<line x1="673.5" y1="357.5" x2="668.0" y2="357.5" stroke="#000" stroke-width="1"/>
<line x1="673.5" y1="352.5" x2="671.0" y2="352.5" stroke="#000" stroke-width="1"/>
<line x1="673.5" y1="348.5" x2="671.0" y2="348.5" stroke="#000" stroke-width="1"/>
<line x1="673.5" y1="343.5" x2="671.0" y2="343.5" stroke="#000" stroke-width="1"/>
<line x1="673.5" y1="338.5" x2="671.0" y2="338.5" stroke="#000" stroke-width="1"/>
<line x1="673.5" y1="333.5" x2="668.0" y2="333.5" stroke="#000" stroke-width="1"/>
<line x1="673.5" y1="328.5" x2="671.0" y2="328.5" stroke="#000" stroke-width="1"/>
<line x1="673.5" y1="323.5" x2="671.0" y2="323.5" stroke="#000" stroke-width="1"/>
<line x1="673.5" y1="318.5" x2="671.0" y2="318.5" stroke="#000" stroke-width="1"/>
<line x1="673.5" y1="313.5" x2="671.0" y2="313.5" stroke="#000" stroke-width="1"/>
<line x1="673.5" y1="308.5" x2="668.0" y2="308.5" stroke="#000" stroke-width="1"/>
<text x="309" y="316.09999999999997" font-size="9.8" fill="#000" textLength="13.5" lengthAdjust="spacingAndGlyphs"  stroke="#000" stroke-width="0.25">0.8</text>
<text x="309" y="338.9" font-size="9.8" fill="#000" textLength="13.5" lengthAdjust="spacingAndGlyphs"  stroke="#000" stroke-width="0.25">0.6</text>
<text x="309" y="361.69999999999993" font-size="9.8" fill="#000" textLength="13.5" lengthAdjust="spacingAndGlyphs"  stroke="#000" stroke-width="0.25">0.4</text>
<text x="309" y="384.49999999999994" font-size="9.8" fill="#000" textLength="13.5" lengthAdjust="spacingAndGlyphs"  stroke="#000" stroke-width="0.25">0.2</text>
<text x="317" y="407.29999999999995" font-size="9.8" fill="#000" textLength="5.0" lengthAdjust="spacingAndGlyphs"  stroke="#000" stroke-width="0.25">0</text>
<text x="680" y="311.8" font-size="9.8" fill="#000" textLength="11.0" lengthAdjust="spacingAndGlyphs"  stroke="#000" stroke-width="0.25">40</text>
<text x="680" y="336.8" font-size="9.8" fill="#000" textLength="11.0" lengthAdjust="spacingAndGlyphs"  stroke="#000" stroke-width="0.25">30</text>
<text x="680" y="360.8" font-size="9.8" fill="#000" textLength="11.0" lengthAdjust="spacingAndGlyphs"  stroke="#000" stroke-width="0.25">20</text>
<text x="680" y="384.8" font-size="9.8" fill="#000" textLength="11.0" lengthAdjust="spacingAndGlyphs"  stroke="#000" stroke-width="0.25">10</text>
<text x="680" y="407.90000000000003" font-size="9.8" fill="#000" textLength="5.2" lengthAdjust="spacingAndGlyphs"  stroke="#000" stroke-width="0.25">0</text>
<text x="390.5" y="420.9" font-size="9.8" fill="#000" textLength="14.0" lengthAdjust="spacingAndGlyphs"  stroke="#000" stroke-width="0.25">0.5</text>
<text x="459.5" y="420.9" font-size="9.8" fill="#000" textLength="14.0" lengthAdjust="spacingAndGlyphs"  stroke="#000" stroke-width="0.25">0.6</text>
<text x="528.5" y="420.9" font-size="9.8" fill="#000" textLength="14.0" lengthAdjust="spacingAndGlyphs"  stroke="#000" stroke-width="0.25">0.7</text>
<text x="597.5" y="420.9" font-size="9.8" fill="#000" textLength="14.0" lengthAdjust="spacingAndGlyphs"  stroke="#000" stroke-width="0.25">0.8</text>
<text x="666.5" y="420.9" font-size="9.8" fill="#000" textLength="14.0" lengthAdjust="spacingAndGlyphs"  stroke="#000" stroke-width="0.25">0.9</text>
<text x="488.9" y="431.8" font-size="9.8" fill="#000" textLength="26.2" lengthAdjust="spacingAndGlyphs"  stroke="#000" stroke-width="0.25">m/M<tspan font-size="6.5" dy="2.5">&#8857;</tspan></text>
<text transform="translate(720.0,392.5) rotate(-90)" x="0" y="0" font-size="9" fill="#000" textLength="71.7" lengthAdjust="spacingAndGlyphs" >entropy (k<tspan font-size="6.5" dy="1.2">B</tspan><tspan dy="-1.2">/m</tspan><tspan font-size="6.5" dy="1.2">p</tspan><tspan dy="-1.2">)</tspan></text>
<text transform="translate(297.8,338) rotate(-90)" x="0" y="0" font-size="8.5" fill="#D2B48C" textLength="13.2" lengthAdjust="spacingAndGlyphs" >&#8711;<tspan font-size="7" dy="4.2">ad</tspan></text>
<text transform="translate(283.3,362.1) rotate(-90)" x="0" y="0" font-size="7.5" fill="#B22222" textLength="9.1" lengthAdjust="spacingAndGlyphs" >&#8711;<tspan font-size="5.5" dy="3.8">T</tspan></text>
<text transform="translate(297.8,390.7) rotate(-90)" x="0" y="0" font-size="8.5" fill="#FF7F50" textLength="16.0" lengthAdjust="spacingAndGlyphs" >&#8711;<tspan font-size="7" dy="4.2">rad</tspan></text>
<clipPath id="cbot"><rect x="329" y="307" width="344" height="102"/></clipPath>
<g clip-path="url(#cbot)">
<polyline points="329.0,408.0 531.5,408.0" fill="none" stroke="#2E8B57" stroke-width="2" stroke-linejoin="round" stroke-linecap="butt" />
<polyline points="531.5,408.0 538.0,408.0" fill="none" stroke="#C78CFF" stroke-width="2" stroke-linejoin="round" stroke-linecap="butt" />
<polyline points="538.0,408.0 616.0,408.0" fill="none" stroke="#708090" stroke-width="2" stroke-linejoin="round" stroke-linecap="butt" />
<polyline points="329.0,362.4 460.0,362.4 490.0,362.5 500.0,363.5 511.0,366.0 520.0,367.0 530.0,368.5 580.0,368.5 581.0,369.9 596.0,369.9 597.0,370.8 610.0,371.3 612.0,372.6 613.5,374.5 614.5,380.0 614.5,396.8" fill="none" stroke="#D2B48C" stroke-width="3" stroke-linejoin="round" stroke-linecap="butt" />
<polyline points="329.0,400.2 418.0,400.2 419.0,399.3 469.0,399.3 470.0,398.4 494.0,398.5 510.0,398.0 520.0,396.0 525.0,394.0 530.0,391.7 533.0,389.5 540.0,389.1 550.0,388.3 560.0,387.3 570.0,385.9 580.0,385.0 590.0,383.6 600.0,382.0 606.0,380.9 610.0,379.5 612.0,377.7 613.0,374.5 613.0,368.5" fill="none" stroke="#B0C4DE" stroke-width="3" stroke-linejoin="round" stroke-linecap="butt" />
<polyline points="329.0,393.3 370.0,392.5 405.0,391.5 440.0,391.5 460.0,392.5 475.0,394.0 481.0,395.0 490.0,396.5 500.0,397.5 506.0,397.5 510.0,396.7 515.0,394.0 520.0,391.2 525.0,387.1 530.0,382.0 533.0,379.0 536.0,377.3 540.0,376.0 550.0,375.8 600.0,376.7 603.0,375.8 605.0,374.9 608.0,376.3 611.0,377.7 613.0,378.6 614.5,379.5" fill="none" stroke="#FF7F50" stroke-width="3" stroke-linejoin="round" stroke-linecap="butt" />
<polyline points="329.0,391.7 370.0,390.9 405.0,389.9 440.0,389.9 460.0,390.9 475.0,392.4 481.0,393.4 490.0,394.9 500.0,395.9 506.0,395.9 510.0,395.1 515.0,392.4 520.0,389.6 525.0,385.5 530.0,380.4 533.0,377.4 536.0,375.7 540.0,374.4 550.0,374.2 600.0,375.1 603.0,374.2 605.0,373.3 608.0,374.7 611.0,376.1 613.0,377.0 614.5,377.9" fill="none" stroke="#B22222" stroke-width="1" stroke-linejoin="round" stroke-linecap="butt" stroke-dasharray="3 14"/>
<polyline points="329.0,394.9 370.0,394.1 405.0,393.1 440.0,393.1 460.0,394.1 475.0,395.6 481.0,396.6 490.0,398.1 500.0,399.1 506.0,399.1 510.0,398.3 515.0,395.6 520.0,392.8 525.0,388.7 530.0,383.6 533.0,380.6 536.0,378.9 540.0,377.6 550.0,377.4 600.0,378.3 603.0,377.4 605.0,376.5 608.0,377.9 611.0,379.3 613.0,380.2 614.5,381.1" fill="none" stroke="#B22222" stroke-width="1" stroke-linejoin="round" stroke-linecap="butt" stroke-dasharray="3 19" stroke-dashoffset="9"/>
<polyline points="614.5,306.0 614.5,390.0" fill="none" stroke="#FF7F50" stroke-width="3" stroke-linejoin="round" stroke-linecap="butt" />
</g>
<text x="532.8" y="14.7" font-size="9.2" fill="#000" textLength="4.1" lengthAdjust="spacingAndGlyphs"  stroke="#000" stroke-width="0.25">o</text>
<text x="522" y="27.8" font-size="9.4" fill="#000" textLength="4.1" lengthAdjust="spacingAndGlyphs"  stroke="#000" stroke-width="0.25">c</text>
<text x="528" y="40.7" font-size="8.8" fill="#000" textLength="9.2" lengthAdjust="spacingAndGlyphs"  stroke="#000" stroke-width="0.25">3&#945;</text>
<text x="707.9" y="40" font-size="8.8" fill="#000" textLength="20.2" lengthAdjust="spacingAndGlyphs"  stroke="#000" stroke-width="0.25">5232</text>
</svg>
</body></html>
